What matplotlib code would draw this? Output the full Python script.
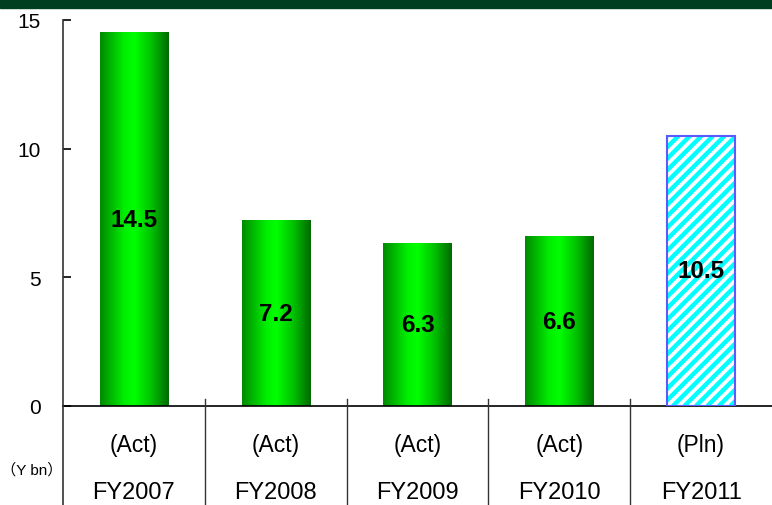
import matplotlib.pyplot as plt
import matplotlib.patches as mpatches
import numpy as np
from matplotlib.colors import LinearSegmentedColormap

plt.rcParams['font.family'] = ['Liberation Sans', 'Noto Sans CJK JP', 'DejaVu Sans']

years = ['FY2007', 'FY2008', 'FY2009', 'FY2010', 'FY2011']
kinds = ['(Act)', '(Act)', '(Act)', '(Act)', '(Pln)']
values = [14.5, 7.2, 6.3, 6.6, 10.5]
planned = [False, False, False, False, True]

fig = plt.figure(figsize=(7.72, 5.06), dpi=100)
ax = fig.add_axes([63 / 772, 1 - 407 / 506, 709 / 772, 386 / 506])
ax.set_xlim(-0.5, len(years) - 0.5)
ax.set_ylim(0, 15)

# dark green band across the top
fig.patches.append(mpatches.Rectangle((0, 1 - 9 / 506), 1, 9 / 506,
                                      transform=fig.transFigure,
                                      color='#004020', zorder=0))

# horizontal gradient used for the actual bars
green = LinearSegmentedColormap.from_list(
    'bar_green', [(0.0, '#008a00'), (0.35, '#00ee00'), (0.5, '#00ff00'),
                  (0.75, '#00c000'), (1.0, '#006a00')])
grad = np.linspace(0, 1, 256).reshape(1, -1)

# pixels per data unit, for drawing 45 degree stripes
(x0p, y0p), (x1p, y1p) = ax.transData.transform([(0, 0), (1, 1)])
sx, sy = x1p - x0p, y1p - y0p

w = 0.48
x = np.arange(len(years))
for xi, v, p in zip(x, values, planned):
    if p:
        bar = ax.bar(xi, v, width=w, color='white', linewidth=0, zorder=2)[0]
        step = 11.5 / sx
        span = v * sy / sx
        for off in np.arange(xi - w / 2 - span, xi + w / 2 + step, step):
            ln, = ax.plot([off, off + span], [0, v], color='#00ffff',
                          lw=3.2, solid_capstyle='butt', zorder=2.5)
            ln.set_clip_path(bar)
        ax.bar(xi, v, width=w, fill=False, edgecolor='#5a5aff',
               linewidth=1.5, zorder=3)
    else:
        ax.imshow(grad, cmap=green, aspect='auto', zorder=2,
                  extent=[xi - w / 2, xi + w / 2, 0, v])
    ax.text(xi, v / 2, f'{v:.1f}', ha='center', va='center',
            fontsize=17.5, fontweight='bold', zorder=4)

ax.set_xlim(-0.5, len(years) - 0.5)
ax.set_ylim(0, 15)
ax.set_yticks([0, 5, 10, 15])
ax.tick_params(axis='y', direction='in', length=6, width=1.2,
               labelsize=15, pad=16)
ax.set_xticks([])
for s in ['top', 'right', 'left']:
    ax.spines[s].set_visible(False)
ax.spines['bottom'].set_linewidth(1.2)

# axis line and category table below the zero line
y_bottom = -3.9
ax.plot([-0.5, -0.5], [y_bottom, 15], color='#333333', lw=1.2,
        clip_on=False, zorder=5)
for b in x[:-1] + 0.5:
    ax.plot([b, b], [y_bottom, 0.27], color='#333333', lw=1.0,
            clip_on=False, zorder=5)
for xi, k, yr in zip(x, kinds, years):
    ax.text(xi, -1.48, k, ha='center', va='center', fontsize=16.5)
    ax.text(xi, -3.36, yr, ha='center', va='center', fontsize=17)

fig.text(32 / 772, 1 - 470 / 506, '（Y bn）', ha='center', va='center',
         fontsize=11)

fig.savefig('out.png', dpi=100)
